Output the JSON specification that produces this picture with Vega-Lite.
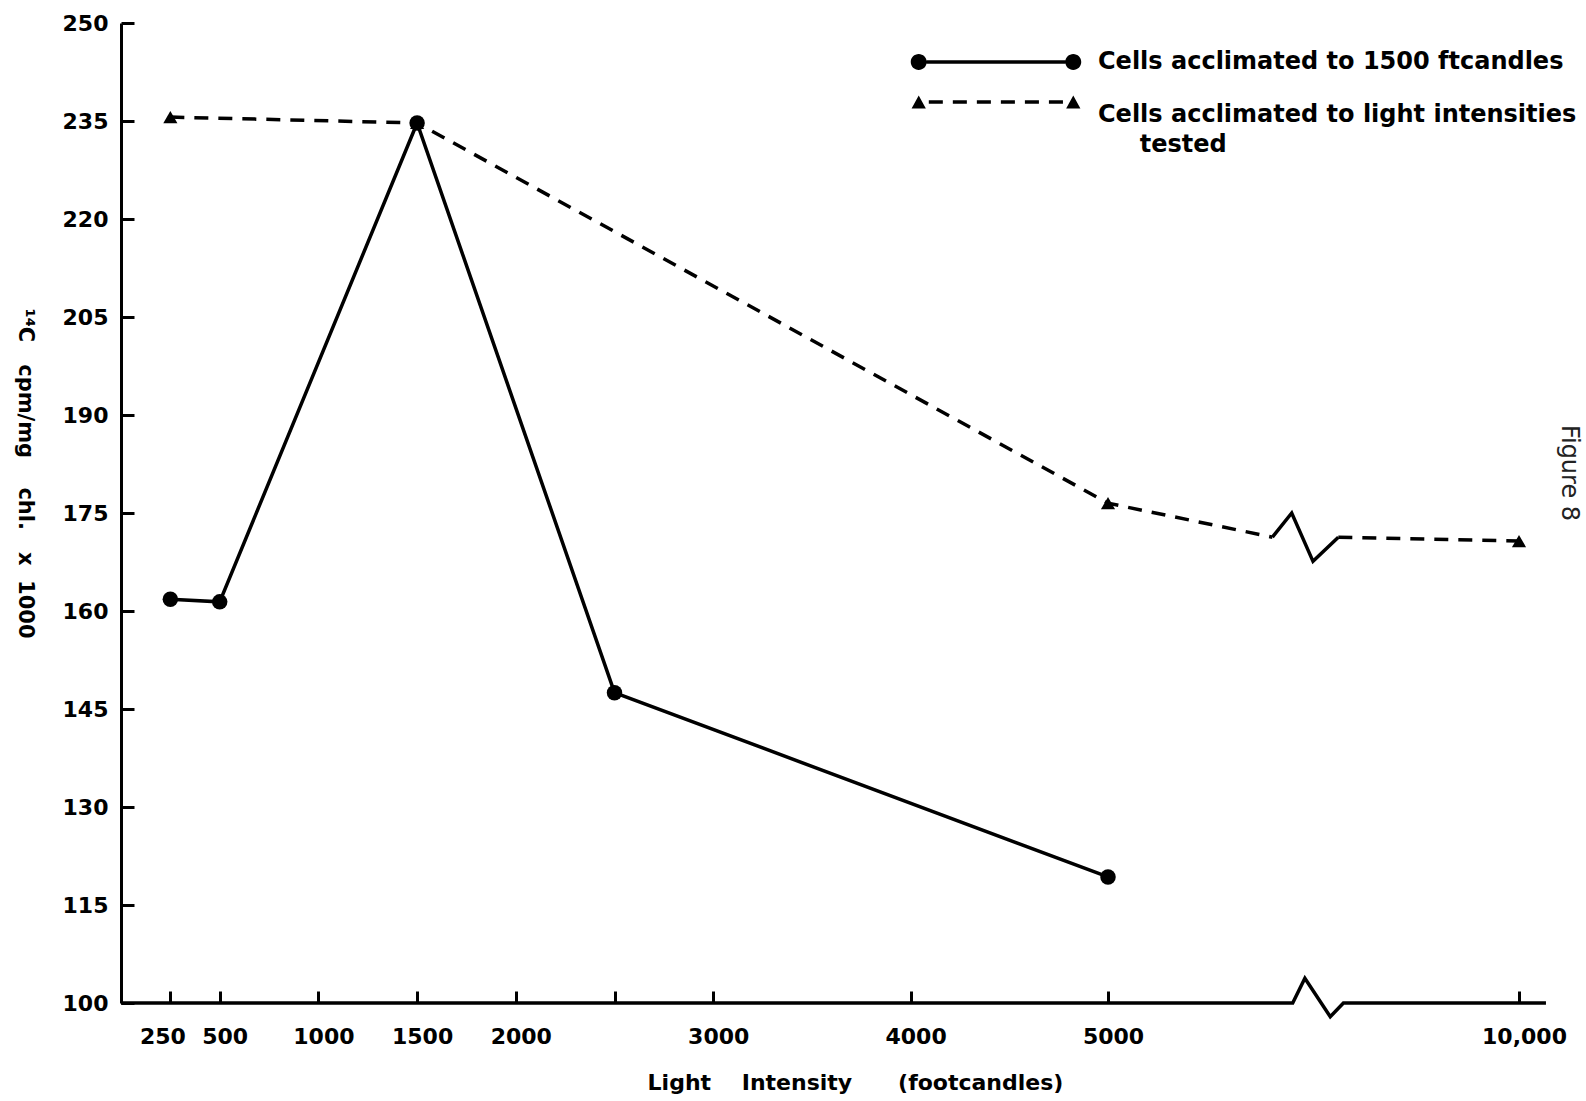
{
  "$schema": "https://vega.github.io/schema/vega-lite/v6.json",
  "width": 1425,
  "height": 980,
  "autosize": {"type": "none"},
  "padding": {"left": 121, "top": 23, "right": 40, "bottom": 98},
  "background": "white",
  "config": {"view": {"stroke": null}, "font": "DejaVu Sans", "style": {"guide-label": {"lineHeight": 30}}},
  "title": {"text": "Figure 8", "orient": "right", "anchor": "middle", "offset": -20, "dx": -40, "fontSize": 24, "fontWeight": "normal", "font": "DejaVu Sans", "color": "#222"},
  "datasets": {
    "points": [
      {"series": "Cells acclimated to 1500 ftcandles", "x": 250, "y": 161.8},
      {"series": "Cells acclimated to 1500 ftcandles", "x": 500, "y": 161.4},
      {"series": "Cells acclimated to 1500 ftcandles", "x": 1500, "y": 234.7},
      {"series": "Cells acclimated to 1500 ftcandles", "x": 2500, "y": 147.5},
      {"series": "Cells acclimated to 1500 ftcandles", "x": 5000, "y": 119.3},
      {"series": "Cells acclimated to light intensities tested", "x": 250, "y": 235.6},
      {"series": "Cells acclimated to light intensities tested", "x": 1500, "y": 234.7},
      {"series": "Cells acclimated to light intensities tested", "x": 5000, "y": 176.5},
      {"series": "Cells acclimated to light intensities tested", "x": 10000, "y": 170.7}
    ],
    "dashed": [
      {"seg": 1, "x": 250, "y": 235.6},
      {"seg": 1, "x": 1500, "y": 234.7},
      {"seg": 1, "x": 5000, "y": 176.5},
      {"seg": 1, "x": 7000, "y": 171.3},
      {"seg": 2, "x": 7802, "y": 171.3},
      {"seg": 2, "x": 10000, "y": 170.7}
    ],
    "breaks": [
      {"part": "curve", "x": 7000, "y": 171.3},
      {"part": "curve", "x": 7235, "y": 175.0},
      {"part": "curve", "x": 7494, "y": 167.6},
      {"part": "curve", "x": 7802, "y": 171.3},
      {"part": "axis", "x": 0, "y": 100},
      {"part": "axis", "x": 7247, "y": 100},
      {"part": "axis", "x": 7395, "y": 103.8},
      {"part": "axis", "x": 7704, "y": 97.9},
      {"part": "axis", "x": 7864, "y": 100},
      {"part": "axis", "x": 10328, "y": 100}
    ]
  },
  "encoding": {
    "x": {
      "field": "x", "type": "quantitative",
      "scale": {"domain": [0, 5000, 10000], "range": [0, 987, 1398], "nice": false, "zero": false},
      "axis": {
        "values": [250, 500, 1000, 1500, 2000, 2500, 3000, 4000, 5000, 10000],
        "labelExpr": "datum.value == 2500 ? '' : (datum.value == 10000 ? '10,000' : format(datum.value, 'd'))",
        "domain": false, "grid": false,
        "ticks": true, "tickSize": -12, "tickWidth": 3, "tickColor": "black",
        "labelPadding": 35, "labelFlush": false, "labelOverlap": false,
        "labelOffset": {"condition": {"test": "datum.value == 250", "value": -8}, "value": 5},
        "labelFont": "DejaVu Sans", "labelFontSize": 22, "labelFontWeight": "bold", "labelColor": "black",
        "title": "Light\u00a0\u00a0\u00a0\u00a0Intensity\u00a0\u00a0\u00a0\u00a0\u00a0\u00a0(footcandles)",
        "titleFont": "DejaVu Sans", "titleFontSize": 22, "titleFontWeight": "bold", "titleColor": "black",
        "titleX": 734, "titleY": 79, "titleBaseline": "middle", "titleAlign": "center"
      }
    },
    "y": {
      "field": "y", "type": "quantitative",
      "scale": {"domain": [100, 250], "nice": false, "zero": false},
      "axis": {
        "values": [100, 115, 130, 145, 160, 175, 190, 205, 220, 235, 250],
        "domain": true, "domainWidth": 3, "domainColor": "black", "grid": false,
        "ticks": true, "tickSize": -13, "tickWidth": 3, "tickColor": "black",
        "labelPadding": 26, "labelFlush": false, "labelOverlap": false,
        "labelFont": "DejaVu Sans", "labelFontSize": 22, "labelFontWeight": "bold", "labelColor": "black",
        "title": "\u00b9\u2074C\u00a0\u00a0\u00a0cpm/mg\u00a0\u00a0\u00a0\u00a0chl.\u00a0\u00a0\u00a0x\u00a0\u00a01000",
        "titleFont": "DejaVu Sans", "titleFontSize": 21, "titleFontWeight": "bold", "titleColor": "black",
        "titleAngle": 90, "titleX": -97, "titleY": 450, "titleBaseline": "middle", "titleAlign": "center"
      }
    }
  },
  "layer": [
    {
      "data": {"name": "breaks"},
      "mark": {"type": "line", "color": "black", "strokeWidth": 3.5, "strokeJoin": "miter"},
      "encoding": {"detail": {"field": "part"}}
    },
    {
      "data": {"name": "dashed"},
      "mark": {"type": "line", "color": "black", "strokeWidth": 3.5, "strokeDash": [14, 10]},
      "encoding": {"detail": {"field": "seg"}}
    },
    {
      "data": {"name": "points"},
      "transform": [{"filter": "datum.series == 'Cells acclimated to 1500 ftcandles'"}],
      "mark": {"type": "line", "color": "black", "strokeWidth": 3.5}
    },
    {
      "data": {"name": "points"},
      "transform": [{"filter": "datum.series == 'Cells acclimated to light intensities tested'"}],
      "mark": {"type": "point", "shape": "triangle-up", "filled": true, "color": "black", "opacity": 1, "size": 200}
    },
    {
      "data": {"name": "points"},
      "transform": [{"filter": "datum.series == 'Cells acclimated to 1500 ftcandles'"}],
      "mark": {"type": "point", "shape": "circle", "filled": true, "color": "black", "opacity": 1, "size": 240}
    },
    {
      "data": {"name": "points"},
      "transform": [{"filter": "datum.series == 'Cells acclimated to 1500 ftcandles'"}],
      "mark": {"type": "point", "filled": true, "color": "black", "opacity": 0},
      "encoding": {
        "shape": {
          "field": "series", "type": "nominal",
          "scale": {"range": ["M-0.826,-0.021L0.826,-0.021L0.826,0.021L-0.826,0.021ZM-1.015,0A0.095,0.095,0,1,1,-0.825,0A0.095,0.095,0,1,1,-1.015,0ZM0.825,0A0.095,0.095,0,1,1,1.015,0A0.095,0.095,0,1,1,0.825,0Z"]},
          "legend": {
            "orient": "none", "legendX": 791, "legendY": -45, "title": null, "padding": 0,
            "symbolSize": 28224, "symbolStrokeWidth": 0, "symbolFillColor": "black", "symbolOpacity": 1,
            "labelFont": "DejaVu Sans", "labelFontSize": 24, "labelFontWeight": "bold", "labelColor": "black",
            "labelLimit": 1000, "labelOffset": 18
          }
        }
      }
    },
    {
      "data": {"name": "points"},
      "transform": [{"filter": "datum.series == 'Cells acclimated to light intensities tested'"}],
      "mark": {"type": "point", "filled": true, "color": "black", "opacity": 0},
      "encoding": {
        "strokeDash": {
          "field": "series", "type": "nominal",
          "scale": {"range": [[1, 0]]},
          "legend": {
            "orient": "none", "legendX": 791, "legendY": 8, "title": null, "padding": 0,
            "symbolType": "M-0.8,-0.176L-0.633,-0.176L-0.633,-0.134L-0.8,-0.134ZM-0.514,-0.176L-0.347,-0.176L-0.347,-0.134L-0.514,-0.134ZM-0.228,-0.176L-0.061,-0.176L-0.061,-0.134L-0.228,-0.134ZM0.058,-0.176L0.225,-0.176L0.225,-0.134L0.058,-0.134ZM0.344,-0.176L0.511,-0.176L0.511,-0.134L0.344,-0.134ZM0.63,-0.176L0.797,-0.176L0.797,-0.134L0.63,-0.134ZM-0.92,-0.233L-0.835,-0.078L-1.005,-0.078ZM0.92,-0.233L1.005,-0.078L0.835,-0.078Z",
            "symbolSize": 28224, "symbolStrokeWidth": 0, "symbolFillColor": "black", "symbolOpacity": 1,
            "labelFont": "DejaVu Sans", "labelFontSize": 24, "labelFontWeight": "bold", "labelColor": "black",
            "labelLimit": 1000, "labelOffset": 18,
            "labelExpr": "['Cells acclimated to light intensities', '\u200b\u00a0\u00a0\u00a0\u00a0\u00a0tested']"
          }
        }
      }
    }
  ]
}
